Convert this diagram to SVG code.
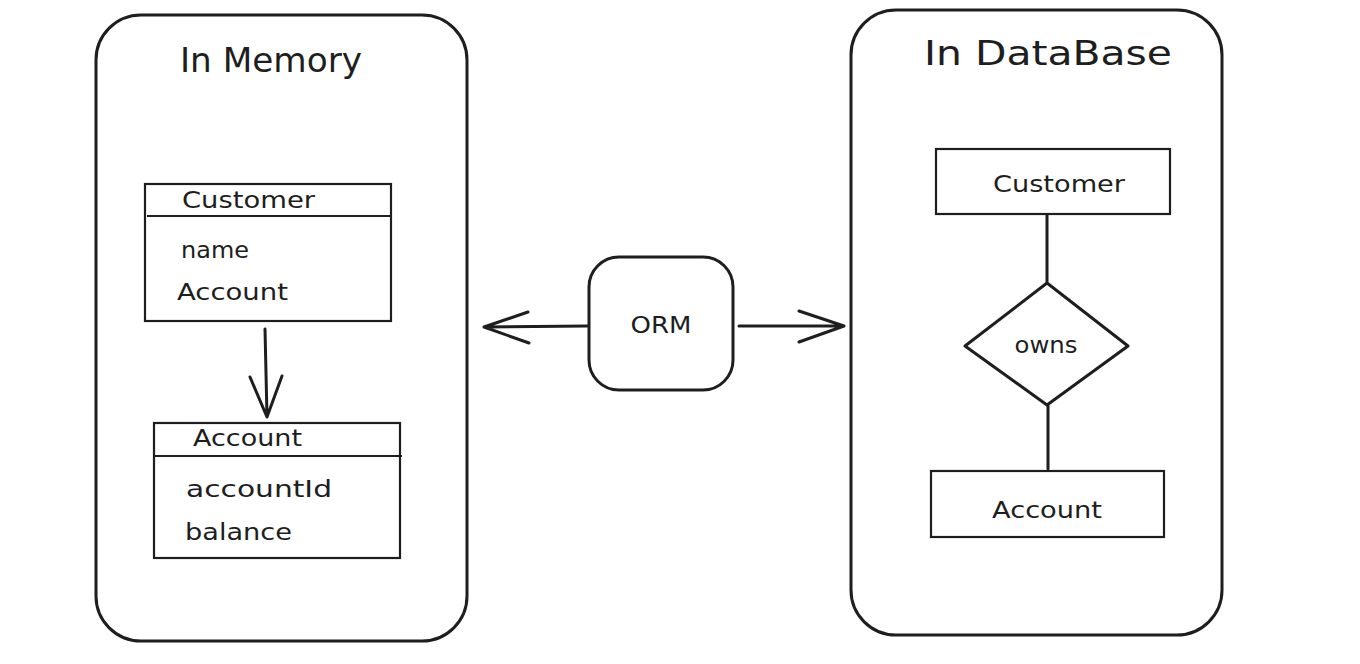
<svg xmlns="http://www.w3.org/2000/svg" width="1360" height="664" viewBox="0 0 1360 664">
<style>
.box{fill:none;stroke:#1e1e1e;stroke-width:3;stroke-linejoin:round}
.thin{fill:none;stroke:#1e1e1e;stroke-width:2.2}
.line{fill:none;stroke:#1e1e1e;stroke-width:3;stroke-linecap:round;stroke-linejoin:round}
text{font-family:"DejaVu Sans","Liberation Sans",Arial,sans-serif;fill:#1e1e1e}
.title{font-size:33px}
.lbl{font-size:23px}
</style>
<rect width="1360" height="664" fill="#ffffff"/>
<g id="in-memory">
<rect class="box" x="96" y="15" width="371" height="626" rx="45"/>
<text class="title" x="180" y="72" textLength="182" lengthAdjust="spacingAndGlyphs">In Memory</text>
</g>
<g id="in-database">
<rect class="box" x="851" y="10" width="371" height="625" rx="45"/>
<text class="title" x="924" y="65" textLength="248" lengthAdjust="spacingAndGlyphs">In DataBase</text>
</g>
<g id="mem-customer">
<rect class="thin" x="145" y="184" width="246" height="137"/>
<line class="thin" x1="147" y1="216" x2="391" y2="216"/>
<text class="lbl" x="182" y="208" textLength="133" lengthAdjust="spacingAndGlyphs">Customer</text>
<text class="lbl" x="181" y="258" textLength="68" lengthAdjust="spacingAndGlyphs">name</text>
<text class="lbl" x="177" y="300" textLength="111" lengthAdjust="spacingAndGlyphs">Account</text>
</g>
<g id="mem-account">
<rect class="thin" x="154" y="423" width="246" height="135"/>
<line class="thin" x1="154" y1="456" x2="402" y2="456"/>
<text class="lbl" x="193" y="446" textLength="109" lengthAdjust="spacingAndGlyphs">Account</text>
<text class="lbl" x="186" y="497" textLength="146" lengthAdjust="spacingAndGlyphs">accountId</text>
<text class="lbl" x="185" y="540" textLength="107" lengthAdjust="spacingAndGlyphs">balance</text>
</g>
<g id="orm">
<rect class="box" x="589" y="257" width="144" height="133" rx="30"/>
<text class="lbl" x="661" y="333" text-anchor="middle" textLength="61" lengthAdjust="spacingAndGlyphs">ORM</text>
</g>
<g id="db-customer">
<rect class="thin" x="936" y="149" width="234" height="65"/>
<text class="lbl" x="1059" y="192" text-anchor="middle" textLength="132" lengthAdjust="spacingAndGlyphs">Customer</text>
</g>
<g id="db-owns">
<path class="box" d="M1047 283 L1128 346 L1047 405 L965 346 Z"/>
<text class="lbl" x="1046" y="353" text-anchor="middle" textLength="63" lengthAdjust="spacingAndGlyphs">owns</text>
</g>
<g id="db-account">
<rect class="thin" x="931" y="471" width="233" height="66"/>
<text class="lbl" x="1047" y="518" text-anchor="middle" textLength="110" lengthAdjust="spacingAndGlyphs">Account</text>
</g>
<g id="connectors">
<path class="line" d="M265 329 L267 417 M250 377 L267 417 L282 376"/>
<path class="line" d="M587 326 L484 327 M528 312 L484 327 L529 343"/>
<path class="line" d="M739 326 L844 326 M799 311 L844 326 L799 342"/>
<path class="line" d="M1047 215 L1047 282"/>
<path class="line" d="M1048 406 L1048 469"/>
</g>
</svg>
